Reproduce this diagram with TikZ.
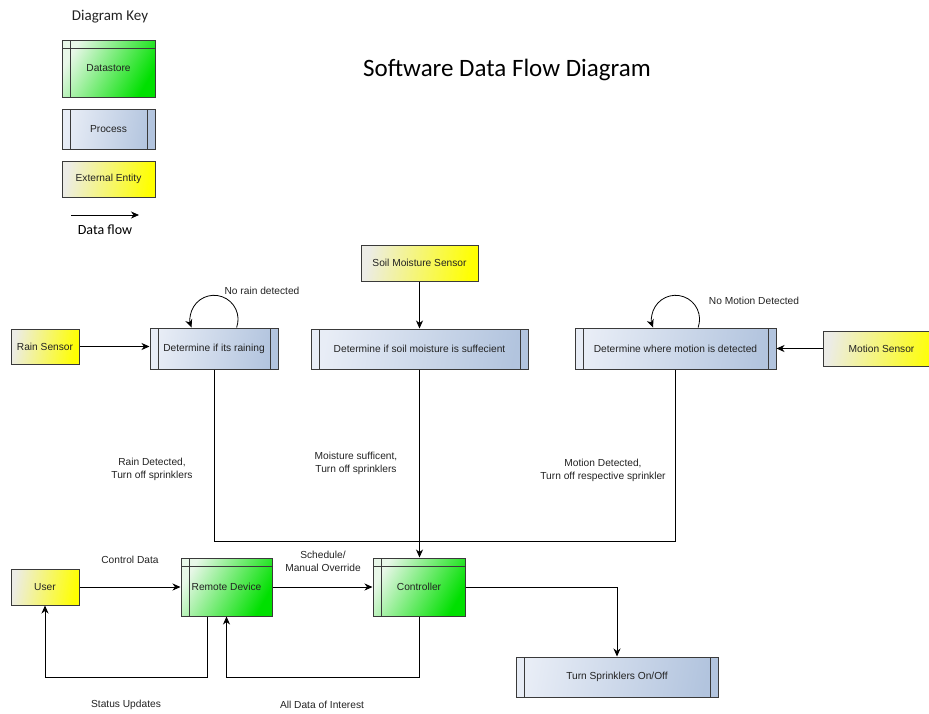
\documentclass[tikz,border=0pt]{standalone}
\usepackage{fontspec}
\setmainfont{Liberation Sans}
\newfontfamily\calibri{Carlito}
\usetikzlibrary{arrows.meta,calc}

\definecolor{boxline}{HTML}{3A3A3A}
\definecolor{txt}{HTML}{222222}
\definecolor{extL}{HTML}{ECECE6}
\definecolor{extR}{HTML}{FFFF00}
\definecolor{procL}{HTML}{E8EDF6}
\definecolor{procR}{HTML}{B2C4DE}
\definecolor{storeL}{HTML}{E8F7E8}
\definecolor{storeR}{HTML}{00E000}

\begin{document}
\begin{tikzpicture}[x=1pt,y=-1pt,
  box/.style={draw=boxline, line width=1pt, inner sep=0pt, align=center,
    text=txt, font=\fontsize{10.2}{12}\selectfont},
  ext/.style={box, left color=extL, right color=extR, shading angle=80},
  proc/.style={box, left color=procL, right color=procR, shading angle=80,
    path picture={
      \draw[boxline, line width=1pt]
        ([xshift=8pt]path picture bounding box.north west) --
        ([xshift=8pt]path picture bounding box.south west);
      \draw[boxline, line width=1pt]
        ([xshift=-8pt]path picture bounding box.north east) --
        ([xshift=-8pt]path picture bounding box.south east);}},
  store/.style={box, left color=storeL, right color=storeR, shading angle=60,
    path picture={
      \draw[boxline, line width=1pt]
        ([xshift=8pt]path picture bounding box.north west) --
        ([xshift=8pt]path picture bounding box.south west);
      \draw[boxline, line width=1pt]
        ([yshift=-8.5pt]path picture bounding box.north west) --
        ([yshift=-8.5pt]path picture bounding box.north east);}},
  flow/.style={draw=black, line width=0.8pt,
    -{Stealth[length=8pt,width=7pt,inset=2.5pt]}},
  link/.style={draw=black, line width=0.8pt},
  lbl/.style={inner sep=0pt, align=center, text=txt,
    font=\fontsize{10.2}{13}\selectfont}
]
\useasboundingbox (0,0) rectangle (929,713);

% title
\node[text=black, font=\calibri\fontsize{25}{30}\selectfont] (title) at (507,70) {Software Data Flow Diagram};

% key
\node[text=txt, font=\calibri\fontsize{15}{18}\selectfont] (keytitle) at (110,17) {Diagram Key};
\node[store, minimum width=93pt, minimum height=57pt] (keyds) at (108.5,68.5) {Datastore};
\node[proc, minimum width=93pt, minimum height=40pt] (keyproc) at (108.5,129) {Process};
\node[ext, minimum width=93pt, minimum height=36pt] (keyext) at (108.5,179) {External Entity};
\coordinate (kfa) at (71,215);
\coordinate (kfb) at (139,215);
\draw[flow] (kfa) -- (kfb);
\node[text=black, font=\calibri\fontsize{14}{16}\selectfont] (keyflow) at (105,230) {Data flow};

% sensors and processes
\node[ext, minimum width=68pt, minimum height=35pt] (rainsens) at (45,346.5) {Rain Sensor};
\node[proc, minimum width=128pt, minimum height=41pt] (rain) at (214,348.5) {Determine if its raining};
\node[ext, minimum width=117pt, minimum height=36pt] (soilsens) at (419.5,263) {Soil Moisture Sensor};
\node[proc, minimum width=217pt, minimum height=40pt] (soil) at (419.5,349) {Determine if soil moisture is suffecient};
\node[proc, minimum width=201pt, minimum height=41pt] (motion) at (675.5,348.5) {Determine where motion is detected};
\node[ext, minimum width=117pt, minimum height=35pt] (motionsens) at (881.5,348.5) {Motion Sensor};

% bottom row
\node[ext, minimum width=68pt, minimum height=36pt] (user) at (45,587) {User};
\node[store, minimum width=91pt, minimum height=58pt] (remote) at (226.5,587) {Remote Device};
\node[store, minimum width=92pt, minimum height=58pt] (ctrl) at (419,587) {Controller};
\node[proc, minimum width=202pt, minimum height=40pt] (turn) at (617,677) {Turn Sprinklers On/Off};

% sensor inputs
\draw[flow] (rainsens.east) -- (rainsens.east -| rain.west);
\draw[flow] (soilsens.south) -- (soil.north);
\draw[flow] (motionsens.west) -- (motionsens.west -| motion.east);

% self loops
\draw[flow] ([xshift=22.6pt]rain.north) arc[start angle=20, end angle=-200, radius=24];
\draw[flow] ([xshift=22.6pt]motion.north) arc[start angle=20, end angle=-200, radius=24];
\node[lbl] (norain) at (262,291) {No rain detected};
\node[lbl] (nomotion) at (754,301) {No Motion Detected};

% outputs to controller
\coordinate (bus) at (419.5,541);
\draw[link] (rain.south) |- (bus) -| (motion.south);
\draw[flow] (soil.south) -- (soil.south |- ctrl.north);
\node[lbl] (rainlbl) at (152,469.5) {Rain Detected,\\Turn off sprinklers};
\node[lbl] (soillbl) at (356,463.5) {Moisture sufficent,\\Turn off sprinklers};
\node[lbl] (motionlbl) at (603,470) {Motion Detected,\\Turn off respective sprinkler};

% user / remote / controller
\draw[flow] (user.east) -- (remote.west);
\draw[flow] (remote.east) -- (ctrl.west);
\node[lbl] (cdlbl) at (130,560) {Control Data};
\node[lbl] (schedlbl) at (323,561) {Schedule/\\Manual Override};
\draw[flow] ([xshift=-19.5pt]remote.south) -- ++(0,61) -| (user.south);
\draw[flow] (ctrl.south) -- ++(0,61) -| (remote.south);
\node[lbl] (statlbl) at (126,705) {Status Updates};
\node[lbl] (alllbl) at (322,705) {All Data of Interest};
\draw[flow] (ctrl.east) -| (turn.north);
\end{tikzpicture}
\end{document}
